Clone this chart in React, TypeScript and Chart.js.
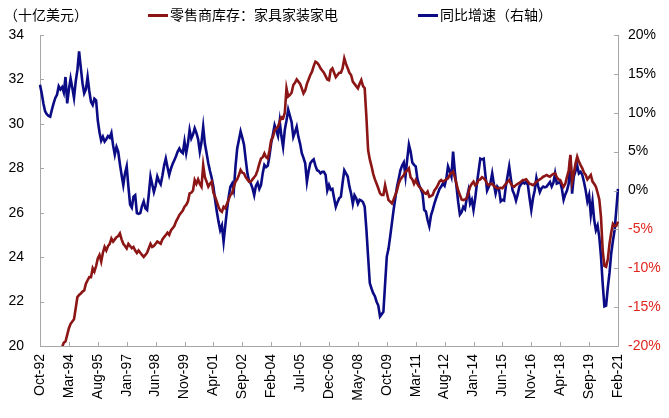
import React, { useEffect, useRef } from 'react';
import { Chart, registerables } from 'chart.js';

Chart.register(...registerables);

// ---- categories (monthly, Oct-92 .. Feb-21) ----
const MONTH_NAMES = ['Jan', 'Feb', 'Mar', 'Apr', 'May', 'Jun', 'Jul', 'Aug', 'Sep', 'Oct', 'Nov', 'Dec'];
const START_YEAR = 1992;
const START_MONTH = 9; // October
const N_MONTHS = 341;
const categories: string[] = Array.from({ length: N_MONTHS }, (_, i) => {
  const m = (START_MONTH + i) % 12;
  const y = START_YEAR + Math.floor((START_MONTH + i) / 12);
  return `${MONTH_NAMES[m]}-${String(y % 100).padStart(2, '0')}`;
});
const TICK_EVERY = 17;

// ---- tick values ----
const LEFT_TICKS = [20, 22, 24, 26, 28, 30, 32, 34];
const RIGHT_TICKS = [-20, -15, -10, -5, 0, 5, 10, 15, 20];

// ---- text ----
const UNIT_LABEL = '（十亿美元）';
const SERIES_INV_NAME = '零售商库存：家具家装家电';
const SERIES_YOY_NAME = '同比增速（右轴）';

// ---- series: retail inventories, furniture/home furnishings/electronics (bn USD) ----
const inventory: number[] = [
  18.2, 18.3, 18.4, 18.6, 18.7, 18.8, 18.9, 19.1, 19.2, 19.4, 19.5, 19.7,
  19.85, 19.95, 20.15, 20.2, 20.5, 20.8, 21.0, 21.1, 21.2, 21.7, 22.2, 22.3,
  22.36, 22.45, 22.5, 22.8, 22.96, 23.1, 23.1, 23.5, 23.35, 23.6, 23.94, 24.1,
  23.8, 24.2, 24.46, 24.3, 24.5, 24.6, 24.84, 24.7, 24.8, 24.9, 24.95, 25.07,
  24.8, 24.6, 24.5, 24.39, 24.6, 24.5, 24.4, 24.46, 24.3, 24.19, 24.3, 24.2,
  24.1, 24.01, 24.1, 24.2, 24.4, 24.6, 24.46, 24.5, 24.6, 24.7, 24.65, 24.6,
  24.8, 24.9, 25.0, 25.1, 25.0, 25.2, 25.3, 25.4, 25.6, 25.74, 25.9, 26.0,
  26.1, 26.27, 26.35, 26.5, 26.87, 26.9, 27.0, 27.47, 27.3, 27.5, 27.3, 27.17,
  28.14, 27.6, 27.4, 27.17, 27.3, 27.4, 26.9, 26.72, 26.5, 26.27, 26.1, 26.04,
  26.27, 26.2, 26.4, 26.6, 26.8, 26.87, 27.17, 27.4, 27.5, 27.7, 27.92, 27.8,
  27.77, 27.6, 27.5, 27.4, 27.4, 27.5, 27.6, 27.7, 27.92, 28.2, 28.44, 28.5,
  28.67, 28.5, 28.44, 28.8, 29.27, 29.4, 29.7, 29.8, 29.87, 30.1, 30.3, 30.25,
  30.5, 31.6, 31.23, 31.3, 31.4, 31.75, 31.85, 32.0, 31.9, 31.8, 31.6, 31.37,
  31.5, 31.8, 32.0, 32.2, 32.35, 32.6, 32.8, 32.75, 32.65, 32.5, 32.4, 32.3,
  32.15, 32.0, 31.97, 32.42, 32.5, 32.3, 32.1, 32.2, 32.3, 32.3, 32.5, 32.95,
  32.7, 32.5, 32.3, 32.2, 31.9, 31.8, 31.7, 31.6, 31.8, 31.97, 31.7, 31.6,
  30.3, 28.82, 28.4, 28.1, 27.75, 27.5, 27.3, 27.1, 26.87, 26.8, 26.8, 27.24,
  26.9, 26.57, 26.5, 26.42, 26.6, 26.8, 27.0, 27.32, 27.5, 27.6, 27.7, 27.85,
  27.9, 28.0, 27.6, 27.5, 27.3, 27.47, 27.3, 27.17, 27.1, 27.0, 26.9, 26.85,
  26.95, 26.72, 26.75, 26.8, 27.0, 27.1, 27.24, 27.4, 27.47, 27.4, 27.45, 27.5,
  27.55, 27.7, 27.8, 27.85, 27.6, 27.3, 27.0, 26.8, 26.6, 26.57, 26.6, 26.65,
  26.9, 27.17, 27.3, 27.4, 27.24, 27.3, 27.47, 27.5, 27.6, 27.55, 27.47, 27.3,
  27.24, 27.3, 27.3, 27.2, 27.15, 27.1, 27.1, 27.12, 27.1, 27.2, 27.3, 27.4,
  27.47, 27.3, 27.2, 27.17, 27.25, 27.3, 27.35, 27.4, 27.47, 27.47, 27.5, 27.4,
  27.3, 27.28, 27.24, 27.3, 27.4, 27.45, 27.5, 27.55, 27.62, 27.65, 27.7, 27.65,
  27.62, 27.7, 27.75, 27.77, 27.6, 27.5, 27.47, 27.3, 27.17, 27.3, 27.62, 27.9,
  28.6, 27.4, 27.77, 28.2, 28.52, 28.3, 28.14, 28.0, 27.8, 27.7, 27.5, 27.6,
  27.7, 27.4, 27.3, 27.17, 26.9, 26.6, 25.8, 24.3, 23.6, 23.56, 23.9, 24.6,
  25.1, 25.5, 25.4, 25.4, 25.6,
];

// ---- series: year-over-year growth (%) ----
const yoy: number[] = [
  13.6, 12.5, 11.2, 10.2, 9.8, 9.6, 9.5, 10.4, 11.2, 11.9, 12.3, 13.4,
  13.0, 13.3, 12.6, 14.6, 11.2, 13.0, 14.4, 13.2, 11.9, 14.0, 15.5, 17.9,
  15.8, 13.8, 12.5, 13.0, 14.6, 12.8, 11.4, 11.0, 11.8, 11.6, 9.0, 7.5,
  6.4, 6.9, 6.3, 6.6, 7.0, 6.8, 7.4, 5.8, 4.6, 5.6, 5.0, 3.4,
  2.0, 0.7, 2.2, 3.1, 0.5, -1.8, -2.2, -0.8, -0.6, -2.9, -3.0, -2.9,
  -2.0, -1.4, -2.3, -2.5, -0.5, 1.8, 0.8, -0.2, 0.6, 1.8, 1.2, 0.8,
  1.9, 3.2, 4.1, 3.0, 2.0, 2.8, 3.4, 3.9, 4.4, 5.0, 5.4, 5.0,
  4.8, 6.3, 4.8, 6.0, 7.8, 6.7, 7.2, 8.0, 7.4, 6.6, 5.0, 6.2,
  8.2, 6.0, 4.8, 3.5, 2.5, 1.6, 0.5, -1.2, -2.7, -4.0, -5.1, -4.5,
  -6.6, -4.5, -2.5, -0.8, 0.5, 0.9, 0.0, 3.1, 5.4, 6.5, 7.6, 6.8,
  5.9, 4.0, 2.2, 1.2, 0.9, 0.3, -0.6, 0.6, 1.0, 0.2, 0.7, 2.2,
  3.3, 3.0, 3.2, 4.5, 6.1, 7.2, 8.4, 7.7, 7.0, 8.9, 7.0, 5.6,
  7.8, 9.0, 10.4, 9.6, 8.8, 6.9, 7.5, 8.2, 6.9, 6.0, 4.8, 4.2,
  3.5, 1.1, 2.5, 3.5, 3.8, 4.0, 3.2, 2.6, 2.5, 2.2, 2.4, 2.4,
  2.0, 0.0, 0.7, 0.1, 0.2, -1.0, -2.1, -1.5, -1.0, -0.8, 1.0, 2.6,
  2.2, 1.8, 0.5, -0.4, -1.7, -0.6, -1.0, -1.7, -1.2, -1.3, -1.5, -2.1,
  -5.0, -8.5, -11.9, -12.6, -13.2, -13.6, -14.3, -14.8, -16.2, -15.9, -15.6, -12.0,
  -8.5, -7.5, -5.9, -4.2, -2.5, -1.0, 0.5, 1.5, 2.6, 3.2, 3.6, 1.8,
  4.0, 5.9, 5.0, 3.6, 3.3, 3.1, 1.5, 0.7, 0.2, -0.4, -2.5, -2.7,
  -3.8, -4.6, -3.2, -2.5, -1.7, -1.0, -0.4, 0.2, 0.5, 0.9, 0.6, 1.5,
  3.1, 2.5, 1.8, 5.0, 2.5, 0.5, -1.5, -3.1, -2.8, -2.1, -2.4, -1.0,
  0.0, -1.7, -1.2, -2.5, -1.0, 0.9, 2.5, 4.1, 4.0, 4.1, 2.0, 0.0,
  0.5, 1.0, 2.2, 0.8, -0.4, 0.5, 0.2, -1.4, -1.2, -1.3, 0.5, 1.8,
  3.1, 1.5, 0.0, -0.5, -1.3, -0.5, 0.5, 0.8, 1.1, 0.9, 1.1, 0.7,
  -1.0, -2.5, -1.0, 0.0, 1.6, 0.6, -0.2, 0.3, 0.5, 0.4, 0.5, 0.8,
  1.1, 0.5, 1.0, 2.2, 0.9, 1.0, 1.1, 0.2, -1.2, -0.5, 0.0, 0.9,
  4.4, -0.4, 1.8, 2.5, 3.2, 2.2, 2.4, 2.0, 1.1, 0.0, -1.4, -0.6,
  -3.1, -1.4, -3.8, -5.1, -4.5, -6.0, -8.5, -12.0, -14.9, -14.8, -12.5, -10.6,
  -8.1, -6.5, -5.1, -2.5, 0.2,
];

const RED = '#8c1515';
const BLUE = '#0b0b85';
const AXIS = '#a6a6a6';
const NEG_RED = '#e0261e';
const FONT = '"Liberation Sans", Arial, sans-serif';
const CJK = '"Noto Sans CJK SC", sans-serif';

const decorPlugin = {
  id: 'decor',
  afterDraw(chart: any) {
    const { ctx, chartArea, scales } = chart;
    const yL = scales.y;
    const yR = scales.y1;
    const xs = scales.x;
    ctx.save();
    ctx.strokeStyle = AXIS;
    ctx.lineWidth = 1;
    ctx.beginPath();
    for (const v of LEFT_TICKS) {
      const py = Math.round(yL.getPixelForValue(v)) + 0.5;
      ctx.moveTo(chartArea.left, py);
      ctx.lineTo(chartArea.left + 4, py);
    }
    for (const v of RIGHT_TICKS) {
      const py = Math.round(yR.getPixelForValue(v)) + 0.5;
      ctx.moveTo(chartArea.right, py);
      ctx.lineTo(chartArea.right - 4, py);
    }
    for (let i = 0; i < categories.length; i += TICK_EVERY) {
      const px = Math.round(xs.getPixelForValue(i)) + 0.5;
      ctx.moveTo(px, chartArea.bottom);
      ctx.lineTo(px, chartArea.bottom - 4);
    }
    ctx.stroke();

    // unit + legend
    ctx.fillStyle = '#000';
    ctx.textBaseline = 'middle';
    ctx.textAlign = 'left';
    ctx.font = `14px ${CJK}`;
    ctx.fillText(UNIT_LABEL, 4, 15);

    ctx.lineWidth = 3;
    ctx.strokeStyle = RED;
    ctx.beginPath();
    ctx.moveTo(148, 15.5);
    ctx.lineTo(168, 15.5);
    ctx.stroke();
    ctx.fillText(SERIES_INV_NAME, 170, 15);

    ctx.strokeStyle = BLUE;
    ctx.beginPath();
    ctx.moveTo(418, 15.5);
    ctx.lineTo(438, 15.5);
    ctx.stroke();
    ctx.fillText(SERIES_YOY_NAME, 440, 15);
    ctx.restore();
  },
};

export default function App() {
  const ref = useRef<HTMLCanvasElement | null>(null);

  useEffect(() => {
    document.body.style.margin = '0';
    const canvas = ref.current;
    if (!canvas) return;
    const chart = new Chart(canvas, {
      type: 'line',
      data: {
        labels: categories,
        datasets: [
          {
            label: SERIES_INV_NAME,
            data: inventory,
            yAxisID: 'y',
            borderColor: RED,
            backgroundColor: RED,
            borderWidth: 2.6,
            pointRadius: 0,
            tension: 0,
            clip: { left: 5, right: 5, top: 5, bottom: 0 } as any,
          },
          {
            label: SERIES_YOY_NAME,
            data: yoy,
            yAxisID: 'y1',
            borderColor: BLUE,
            backgroundColor: BLUE,
            borderWidth: 2.6,
            pointRadius: 0,
            tension: 0,
          },
        ],
      },
      options: {
        animation: false,
        responsive: false,
        maintainAspectRatio: false,
        layout: { padding: { top: 35, left: 0, right: 0, bottom: 0 } },
        plugins: {
          legend: { display: false },
          tooltip: { enabled: false },
          title: { display: false },
        },
        scales: {
          x: {
            type: 'category',
            offset: false,
            grid: { display: false, drawTicks: false },
            border: { display: true, color: AXIS, width: 1 },
            ticks: {
              autoSkip: false,
              minRotation: 90,
              maxRotation: 90,
              padding: 8,
              color: '#000',
              font: { family: FONT, size: 14 },
              callback: (_v: any, index: number) =>
                index % TICK_EVERY === 0 ? categories[index] : null,
            },
            afterFit: (s: any) => {
              s.height = 72;
            },
          },
          y: {
            position: 'left',
            min: 20,
            max: 34,
            grid: { display: false, drawTicks: false },
            border: { display: true, color: AXIS, width: 1 },
            ticks: {
              stepSize: 2,
              padding: 16,
              color: '#000',
              font: { family: FONT, size: 14 },
            },
            afterFit: (s: any) => {
              s.width = 40;
            },
          },
          y1: {
            position: 'right',
            min: -20,
            max: 20,
            grid: { display: false, drawTicks: false },
            border: { display: true, color: AXIS, width: 1 },
            ticks: {
              stepSize: 5,
              padding: 10,
              font: { family: FONT, size: 14 },
              color: (c: any) => (c.tick && c.tick.value < 0 ? NEG_RED : '#000'),
              callback: (v: any) => `${v}%`,
            },
            afterFit: (s: any) => {
              s.width = 51;
            },
          },
        },
      },
      plugins: [decorPlugin],
    });
    return () => chart.destroy();
  }, []);

  return (
    <div style={{ width: 669, height: 418, background: '#fff' }}>
      <canvas ref={ref} width={669} height={418} style={{ display: 'block' }} />
    </div>
  );
}
